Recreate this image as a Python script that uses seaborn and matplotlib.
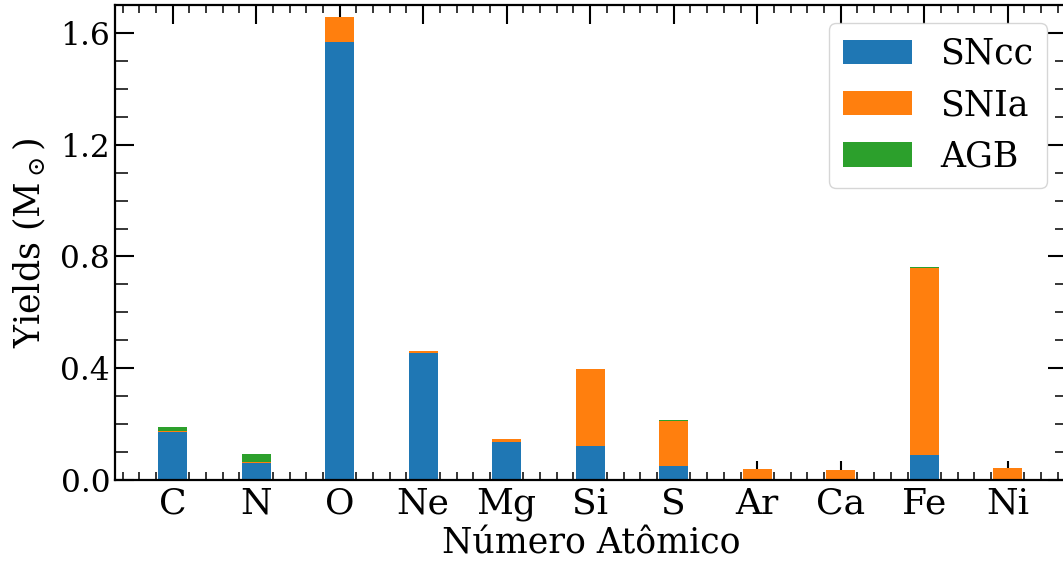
import numpy as np
import pandas as pd
import seaborn as sns
import matplotlib.pyplot as plt
from matplotlib.ticker import MultipleLocator, FormatStrFormatter

# Yields per element and source (solar masses)
elements = ["C", "N", "O", "Ne", "Mg", "Si", "S", "Ar", "Ca", "Fe", "Ni"]
sncc = [0.173, 0.062, 1.569, 0.456, 0.136, 0.122, 0.050, 0.001, 0.001, 0.089, 0.001]
snia = [0.002, 0.0035, 0.087, 0.005, 0.0096, 0.274, 0.162, 0.037, 0.034, 0.671, 0.041]
agb = [0.015, 0.0275, 0.001, 0.0014, 0.0014, 0.002, 0.003, 0.0015, 0.0015, 0.003, 0.002]

sources = ["SNcc", "SNIa", "AGB"]
colors = {"SNcc": "#1f77b4", "SNIa": "#ff7f0e", "AGB": "#2ca02c"}

# Cumulative heights so that overlaid bars read as a stacked chart
cum_sncc = np.array(sncc)
cum_snia = cum_sncc + np.array(snia)
cum_agb = cum_snia + np.array(agb)

df = pd.concat([
    pd.DataFrame({"element": elements, "top": cum_agb, "source": "AGB"}),
    pd.DataFrame({"element": elements, "top": cum_snia, "source": "SNIa"}),
    pd.DataFrame({"element": elements, "top": cum_sncc, "source": "SNcc"}),
], ignore_index=True)

sns.set_theme(style="ticks")
plt.rcParams["font.family"] = ["DejaVu Serif"]
plt.rcParams["mathtext.fontset"] = "dejavuserif"
plt.rcParams["text.color"] = "black"
plt.rcParams["axes.labelcolor"] = "black"

fig = plt.figure(figsize=(10.63, 5.61), dpi=100)
ax = fig.add_axes([0.1082, 0.1444, 0.8956, 0.8467])

sns.barplot(data=df, x="element", y="top", hue="source",
            hue_order=["AGB", "SNIa", "SNcc"], order=elements,
            palette=colors, dodge=False, width=0.35, saturation=1,
            errorbar=None, linewidth=0, ax=ax)

ax.set_xlim(-0.69, 10.71)
ax.set_ylim(0, 1.70)
ax.yaxis.set_major_locator(MultipleLocator(0.4))
ax.yaxis.set_minor_locator(MultipleLocator(0.1))
ax.yaxis.set_major_formatter(FormatStrFormatter("%.1f"))
ax.xaxis.set_minor_locator(MultipleLocator(0.2))

ax.tick_params(which="both", direction="in", top=True, right=True,
               colors="black", labelcolor="black")
ax.tick_params(axis="y", labelsize=22.5)
ax.tick_params(axis="x", labelsize=26, pad=5)
ax.tick_params(which="major", length=14, width=1.5)
ax.tick_params(axis="x", which="minor", length=6, width=1.1)
ax.tick_params(axis="y", which="minor", length=9, width=1.1)
for sp in ax.spines.values():
    sp.set_linewidth(1.6)
    sp.set_color("black")

ax.set_xlabel("Número Atômico", fontsize=25, labelpad=4)
ax.set_ylabel(r"Yields (M$_\odot$)", fontsize=25, labelpad=9)

handles, labels = ax.get_legend_handles_labels()
lookup = dict(zip(labels, handles))
ax.legend([lookup[s] for s in sources], sources, loc="upper right",
          bbox_to_anchor=(0.979, 0.962), borderaxespad=0, fontsize=25,
          frameon=True, title=None)

fig.savefig("out.png", dpi=100)
